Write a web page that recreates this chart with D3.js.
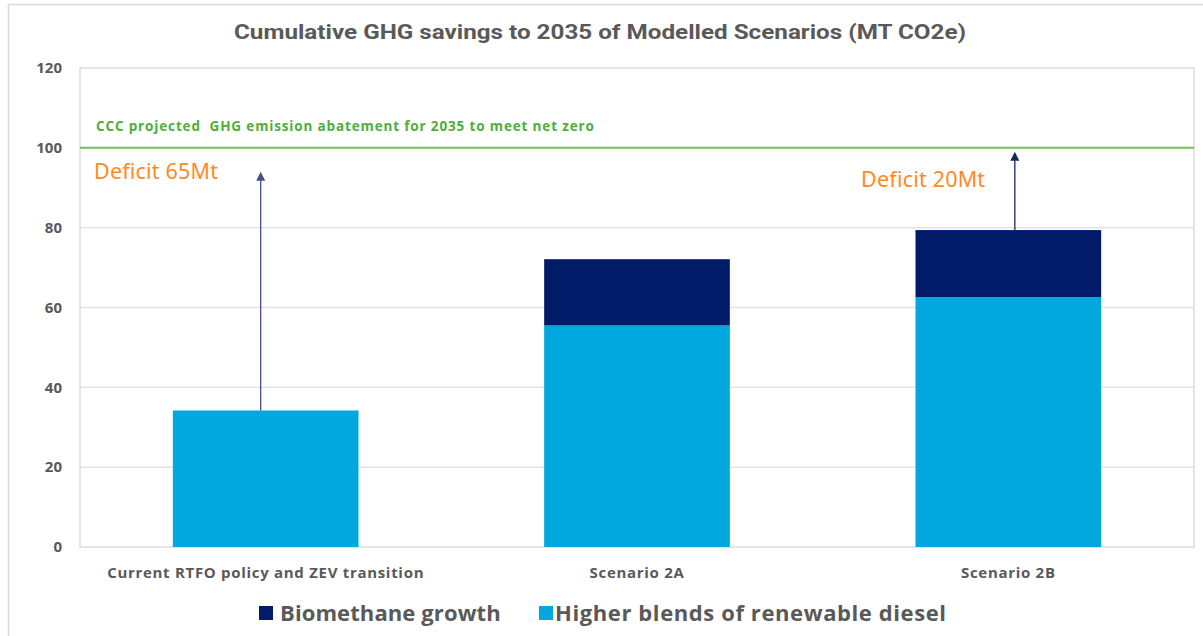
<!DOCTYPE html>
<html>
<head>
<meta charset="utf-8">
<script src="https://cdn.jsdelivr.net/npm/d3@7"></script>
<style>
  body { margin: 0; background: #fff; }
  svg { display: block; }
</style>
</head>
<body>
<div id="chart"></div>
<script>
const width = 1203, height = 636;
const margin = {top: 68, right: 9, bottom: 89, left: 80};

// data
const categories = ["Current RTFO policy and ZEV transition", "Scenario 2A", "Scenario 2B"];
const dieselValues = [34.2, 55.5, 62.6];
const biomethaneValues = [0, 16.6, 16.8];
const seriesNames = ["Biomethane growth", "Higher blends of renewable diesel"];
const yTicks = [0, 20, 40, 60, 80, 100, 120];
const targetValue = 100;
const targetLabel = "CCC projected  GHG emission abatement for 2035 to meet net zero";
const deficitLabels = ["Deficit 65Mt", "", "Deficit 20Mt"];
const arrowTips = [94, null, 99];

const navy = "#021b69", lightBlue = "#00a8de", gridColor = "#e3e3e3";

let svg = d3.select("#chart").
append("svg").
attr("width", width).
attr("height", height);

// outer frame
svg.append("path").
attr("d", `M8.5,${height}V4.5H${width}`).
attr("fill", "none").
attr("stroke", "#d9d9d9").
attr("stroke-width", 1.5);

svg.append("text").
attr("x", 600).
attr("y", 39).
attr("text-anchor", "middle").
attr("font-family", "Roboto").
attr("font-weight", 700).
attr("font-size", 20).
attr("fill", "#595959").
attr("textLength", 732).
attr("lengthAdjust", "spacingAndGlyphs").
text("Cumulative GHG savings to 2035 of Modelled Scenarios (MT CO2e)");

let x = d3.scaleBand().
domain(categories).
range([margin.left, width - margin.right]).
paddingInner(0.5).
paddingOuter(0.25);

let y = d3.scaleLinear().
domain([0, 120]).
range([height - margin.bottom, margin.top]);

// grid
svg.append("g").
selectAll("line").
data(yTicks.slice(1, -1)).
enter().append("line").
attr("x1", margin.left).
attr("x2", width - margin.right).
attr("y1", d => y(d)).
attr("y2", d => y(d)).
attr("stroke", gridColor).
attr("stroke-width", 1.5);

svg.append("rect").
attr("x", margin.left).
attr("y", y(120)).
attr("width", width - margin.right - margin.left).
attr("height", y(0) - y(120)).
attr("fill", "none").
attr("stroke", "#dcdcdc").
attr("stroke-width", 1.5);

// y axis labels
let yAxis = svg.append("g").
attr("transform", `translate(${margin.left},0)`).
call(d3.axisLeft(y).tickValues(yTicks).tickSize(0).tickPadding(18));
yAxis.select(".domain").remove();
yAxis.selectAll("text").
attr("font-family", "Open Sans").
attr("font-weight", 700).
attr("font-size", 15).
attr("fill", "#595959");

// x axis labels
let xAxis = svg.append("g").
attr("transform", `translate(0,${y(0)})`).
call(d3.axisBottom(x).tickSize(0).tickPadding(20));
xAxis.select(".domain").remove();
xAxis.selectAll("text").
attr("font-family", "Open Sans").
attr("font-weight", 700).
attr("font-size", 15).
attr("letter-spacing", 0.7).
attr("fill", "#595959");

// stacked bars
let stackData = categories.map((c, i) => ({cat: c, diesel: dieselValues[i], bio: biomethaneValues[i]}));
let stacked = d3.stack().keys(["diesel", "bio"])(stackData);
let colors = {diesel: lightBlue, bio: navy};

svg.append("g").
selectAll("g").
data(stacked).
enter().append("g").
attr("fill", s => colors[s.key]).
selectAll("rect").
data(s => s.filter(d => d[1] > d[0])).
enter().append("rect").
attr("x", d => x(d.data.cat)).
attr("width", x.bandwidth()).
attr("y", d => y(d[1])).
attr("height", d => y(d[0]) - y(d[1]));

// target line
svg.append("line").
attr("x1", margin.left).
attr("x2", width - margin.right).
attr("y1", y(targetValue)).
attr("y2", y(targetValue)).
attr("stroke", "#72c05a").
attr("stroke-width", 2);

svg.append("text").
attr("x", margin.left + 16).
attr("y", y(targetValue) - 17).
attr("font-family", "Open Sans").
attr("font-weight", 700).
attr("font-size", 13.5).
attr("letter-spacing", 0.85).
attr("fill", "#4fae3a").
attr("xml:space", "preserve").
text(targetLabel);

// deficit arrows
const arrowOffsets = [-5, 0, 6.5];
const arrowColors = ["#46527f", "", "#1a2660"];
categories.forEach((c, i) => {
  if (arrowTips[i] == null) return;
  let ax = x(c) + x.bandwidth() / 2 + arrowOffsets[i];
  let base = y(dieselValues[i] + biomethaneValues[i]);
  let tip = y(arrowTips[i]);
  svg.append("line").
  attr("x1", ax).attr("x2", ax).
  attr("y1", base).attr("y2", tip + 8).
  attr("stroke", arrowColors[i]).
  attr("stroke-width", 1.3);
  svg.append("path").
  attr("d", `M${ax - 4.5},${tip + 9}L${ax},${tip}L${ax + 4.5},${tip + 9}Z`).
  attr("fill", arrowColors[i]);
});

svg.append("text").
attr("x", margin.left + 14).
attr("y", y(92.3)).
attr("font-family", "Noto Sans").
attr("font-size", 21.5).
attr("letter-spacing", 0.2).
attr("fill", "#ff8a1e").
text(deficitLabels[0]);

svg.append("text").
attr("x", x(categories[2]) + x.bandwidth() / 2 - 23).
attr("y", y(90.3)).
attr("text-anchor", "end").
attr("font-family", "Noto Sans").
attr("font-size", 21.5).
attr("letter-spacing", 0.2).
attr("fill", "#ff8a1e").
text(deficitLabels[2]);

// legend
const legendX = [259, 539];
const legendColors = [navy, lightBlue];
let legend = svg.append("g").
selectAll("g").
data(seriesNames).
enter().append("g").
attr("transform", (d, i) => `translate(${legendX[i]},606)`);

legend.append("rect").
attr("width", 14).
attr("height", 14).
attr("fill", (d, i) => legendColors[i]);

legend.append("text").
attr("x", (d, i) => i === 0 ? 21 : 16).
attr("y", 14.5).
attr("font-family", "Open Sans").
attr("font-weight", 700).
attr("font-size", 22).
attr("letter-spacing", (d, i) => i === 0 ? 0.1 : 0.6).
attr("fill", "#595959").
text(d => d);
</script>
</body>
</html>
